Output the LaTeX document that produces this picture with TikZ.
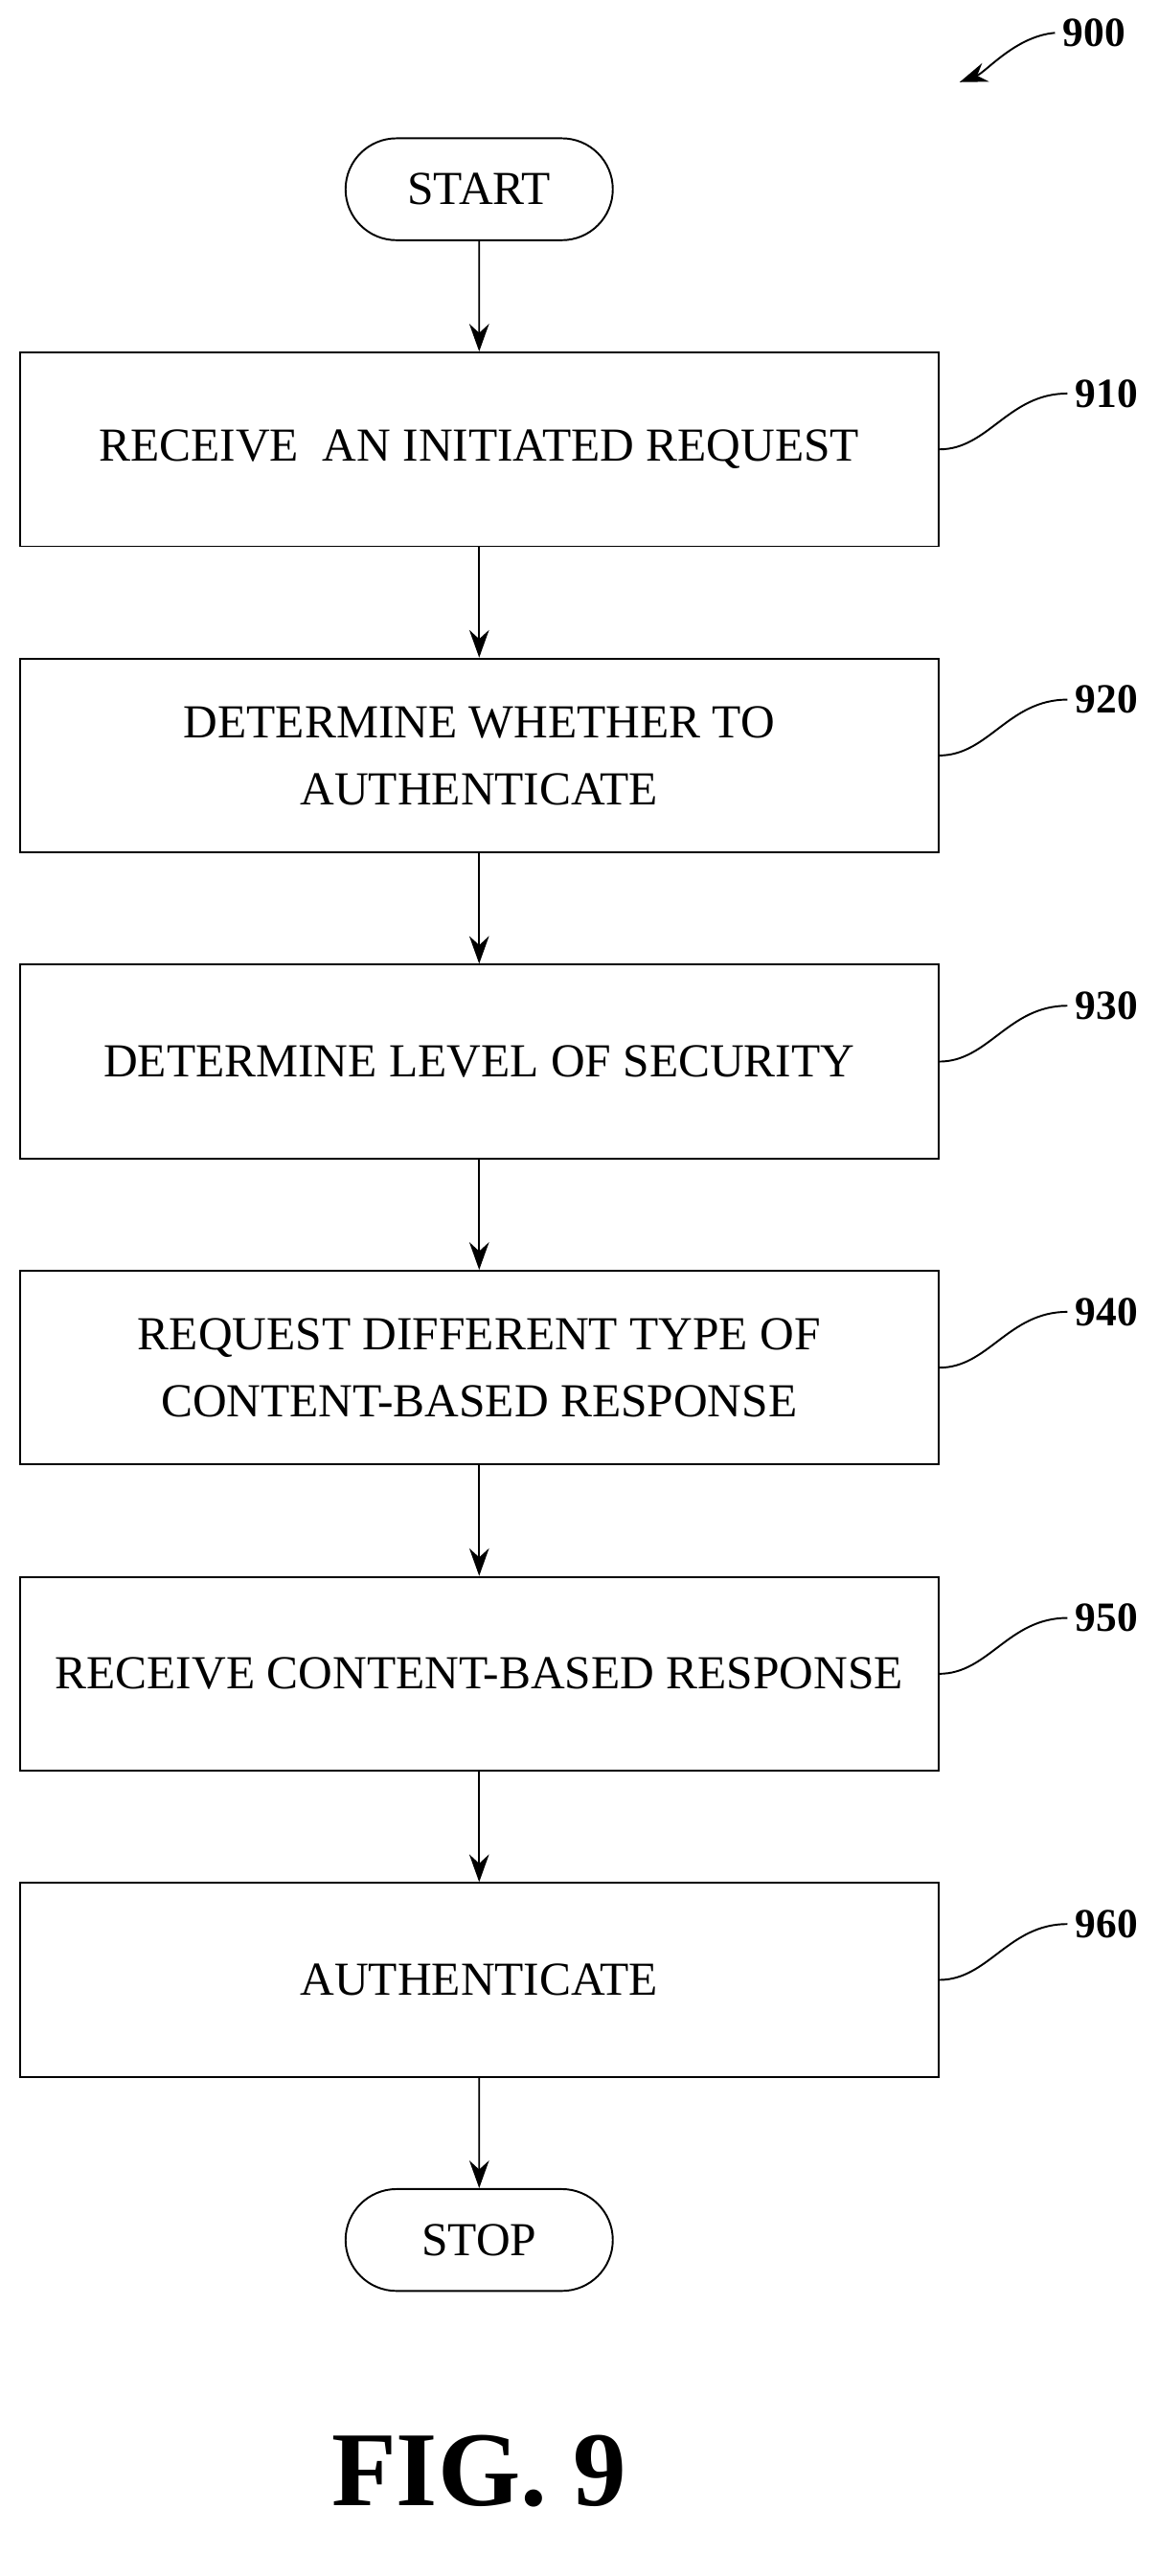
\documentclass[tikz,border=0pt]{standalone}
\usepackage{fontspec}
\setmainfont{Liberation Serif}
\usetikzlibrary{arrows.meta}
\usetikzlibrary{positioning}
\usetikzlibrary{shapes.misc}

\begin{document}
\begin{tikzpicture}[
    node distance=1.68cm,
    flowStep/.style={
        rectangle, draw, thick,
        minimum width=13.97cm,
        minimum height=2.95cm,
        font=\fontsize{20.5}{29}\selectfont,
        align=center
    },
    terminal/.style={
        rounded rectangle, draw, thick,
        minimum width=4.3cm,
        minimum height=1.55cm,
        font=\fontsize{20.5}{24}\selectfont
    },
    refLabel/.style={font=\fontsize{18}{20}\selectfont\bfseries, anchor=west},
    flowArrow/.style={-{Stealth[length=0.42cm,width=0.3cm]}, thick}
]
\useasboundingbox (0,0) rectangle (17.625,-39.2);
\node[terminal] (start) at (7.29,-2.88) {START};
\node[flowStep, below=of start] (receive) {RECEIVE\ \ AN INITIATED REQUEST};
\node[flowStep, below=of receive] (decide) {DETERMINE WHETHER TO\\AUTHENTICATE};
\node[flowStep, below=of decide] (level) {DETERMINE LEVEL OF SECURITY};
\node[flowStep, below=of level] (request) {REQUEST DIFFERENT TYPE OF\\CONTENT-BASED RESPONSE};
\node[flowStep, below=of request] (response) {RECEIVE CONTENT-BASED RESPONSE};
\node[flowStep, below=of response] (auth) {AUTHENTICATE};
\node[terminal, below=of auth] (stop) {STOP};
\draw[flowArrow] (start) -- (receive);
\draw[flowArrow] (receive) -- (decide);
\draw[flowArrow] (decide) -- (level);
\draw[flowArrow] (level) -- (request);
\draw[flowArrow] (request) -- (response);
\draw[flowArrow] (response) -- (auth);
\draw[flowArrow] (auth) -- (stop);
% reference numerals
\foreach \step/\num in {receive/910, decide/920, level/930, request/940, response/950, auth/960} {
    \node[refLabel] (lbl\num) at ([xshift=1.95cm, yshift=0.85cm]\step.east) {\num};
    \draw[thick] (\step.east) .. controls +(0.75,0) and +(-0.9,0) .. (lbl\num.west);
}
\node[refLabel] (fig) at (16.05,-0.5) {900};
\draw[flowArrow] (fig.west) .. controls +(-0.6,-0.05) and +(0.4,0.15) .. (14.6,-1.25);
\node[font=\fontsize{46}{50}\selectfont\bfseries] (title) at (7.29,-37.6) {FIG. 9};
\end{tikzpicture}
\end{document}
